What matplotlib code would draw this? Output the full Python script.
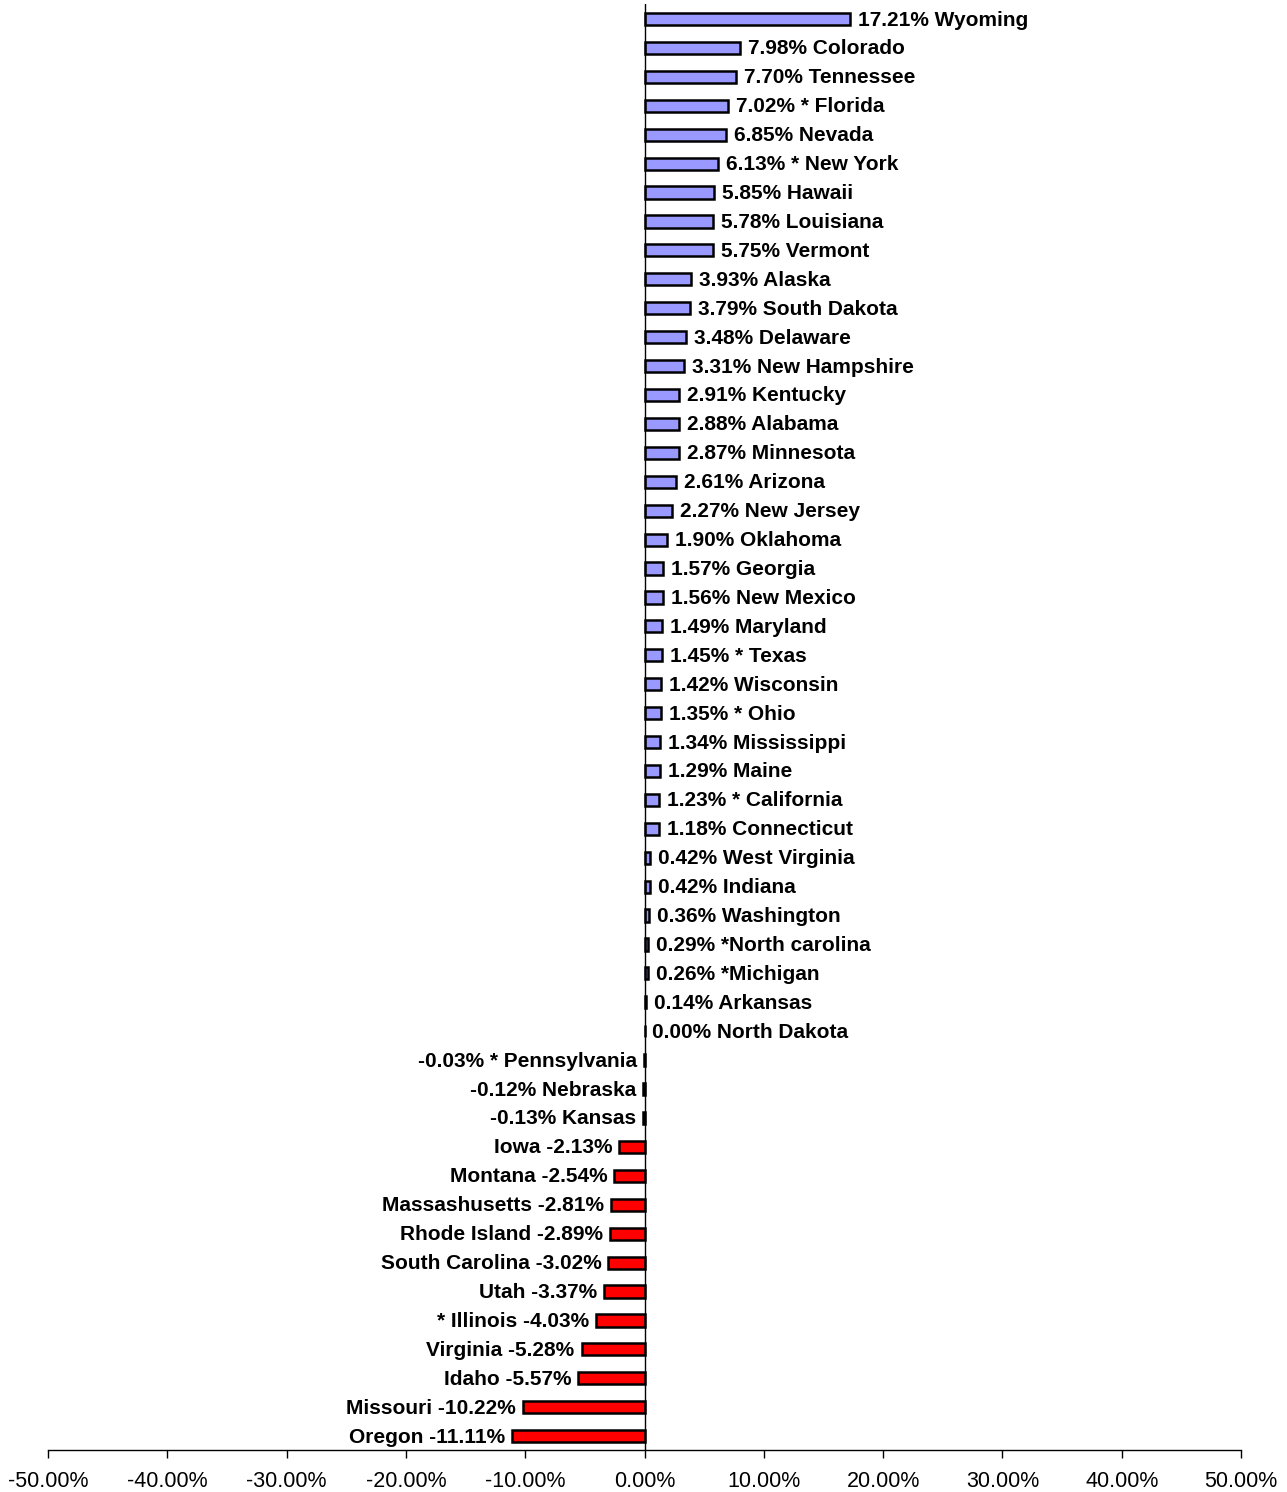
import matplotlib
matplotlib.use("Agg")
import matplotlib.pyplot as plt
from matplotlib.ticker import FuncFormatter, MultipleLocator

states = ["Wyoming", "Colorado", "Tennessee", "* Florida", "Nevada", "* New York", "Hawaii",
          "Louisiana", "Vermont", "Alaska", "South Dakota", "Delaware", "New Hampshire",
          "Kentucky", "Alabama", "Minnesota", "Arizona", "New Jersey", "Oklahoma", "Georgia",
          "New Mexico", "Maryland", "* Texas", "Wisconsin", "* Ohio", "Mississippi", "Maine",
          "* California", "Connecticut", "West Virginia", "Indiana", "Washington",
          "*North carolina", "*Michigan", "Arkansas", "North Dakota", "* Pennsylvania",
          "Nebraska", "Kansas", "Iowa", "Montana", "Massashusetts", "Rhode Island",
          "South Carolina", "Utah", "* Illinois", "Virginia", "Idaho", "Missouri", "Oregon"]
values = [17.21, 7.98, 7.70, 7.02, 6.85, 6.13, 5.85, 5.78, 5.75, 3.93, 3.79, 3.48, 3.31,
          2.91, 2.88, 2.87, 2.61, 2.27, 1.90, 1.57, 1.56, 1.49, 1.45, 1.42, 1.35, 1.34, 1.29,
          1.23, 1.18, 0.42, 0.42, 0.36, 0.29, 0.26, 0.14, 0.00, -0.03, -0.12, -0.13, -2.13,
          -2.54, -2.81, -2.89, -3.02, -3.37, -4.03, -5.28, -5.57, -10.22, -11.11]
# label style: True = "value name", False = "name value"
value_first = [True] * 39 + [False] * 11

fig = plt.figure(figsize=(12.87, 14.92), dpi=100)
ax = fig.add_axes([48 / 1287, 42 / 1492, (1241 - 48) / 1287, (1488 - 42) / 1492])

n = len(values)
ys = list(range(n))
colors = ["#9999FF" if v >= 0 else "#FF0000" for v in values]
ax.barh(ys, values, height=0.42, color=colors, edgecolor="black", linewidth=1.8, zorder=3)

ax.set_xlim(-50, 50)
ax.set_ylim(n - 1 + 0.48, -0.52)
ax.xaxis.set_major_locator(MultipleLocator(10))
ax.xaxis.set_major_formatter(FuncFormatter(lambda x, p: f"{x:.2f}%"))
for s in ["top", "right", "left"]:
    ax.spines[s].set_visible(False)
ax.spines["bottom"].set_linewidth(1.0)
ax.set_yticks([])
ax.axvline(0, color="black", linewidth=1.0, zorder=4)
ax.tick_params(axis="x", length=6, width=1.0, labelsize=15.5, pad=9)
for lab in ax.get_xticklabels():
    lab.set_fontfamily("Liberation Sans")

for y, v, s, vf in zip(ys, values, states, value_first):
    txt = f"{v:.2f}% {s}" if vf else f"{s} {v:.2f}%"
    if v >= 0:
        ax.annotate(txt, (v, y), xytext=(8, -1), textcoords="offset pixels",
                    ha="left", va="center", fontsize=15, fontweight="bold",
                    fontfamily="Liberation Sans")
    else:
        ax.annotate(txt, (v, y), xytext=(-7, -1), textcoords="offset pixels",
                    ha="right", va="center", fontsize=15, fontweight="bold",
                    fontfamily="Liberation Sans")

fig.savefig("out.png", dpi=100)
